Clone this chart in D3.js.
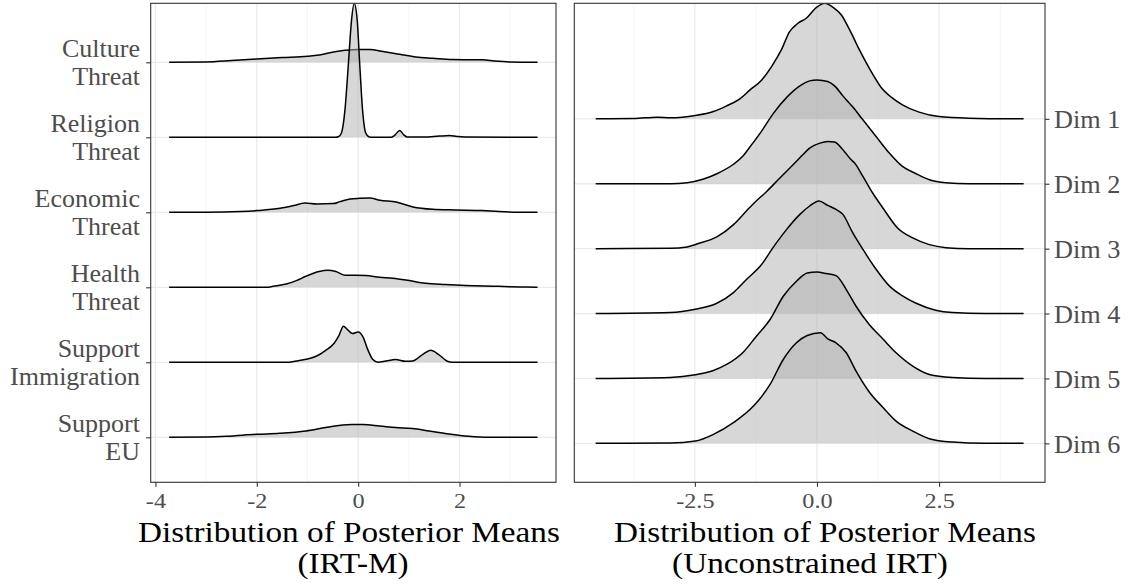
<!DOCTYPE html>
<html>
<head>
<meta charset="utf-8">
<script src="https://cdn.jsdelivr.net/npm/d3@7"></script>
<style>
  html, body { margin: 0; padding: 0; background: #fff; }
  svg { display: block; }
</style>
</head>
<body>
<svg id="chart" width="1129" height="586"></svg>
<script>
// ---------------- DATA ----------------
// Left panel: IRT-M posterior means. Pairs are [value, relative density].
const leftCategories = ["Culture\nThreat", "Religion\nThreat", "Economic\nThreat",
                        "Health\nThreat", "Support\nImmigration", "Support\nEU"];
const cultureThreat = [[-3.73,0],[-3.0,0.3],[-2.5,1.7],[-2.0,3.3],[-1.5,4.7],[-1.0,6],[-0.77,7.3],
  [-0.51,10],[-0.25,12],[0,12.7],[0.23,12.7],[0.49,10.7],[0.82,8],[1.14,5.3],[1.47,4],[1.86,2.7],
  [2.2,2.6],[2.45,2.5],[2.7,1.2],[3.0,0.3],[3.54,0]];
const religionThreat = [[-3.73,0],[-0.45,0],[-0.39,0.5],[-0.33,4.3],[-0.26,27.7],[-0.196,71],
  [-0.13,117.7],[-0.078,134],[-0.02,117.7],[0.033,71],[0.086,27.7],[0.15,4.3],[0.22,0.3],[0.28,0],
  [0.65,0],[0.72,2],[0.82,6.7],[0.9,2.5],[0.97,0.3],[1.3,0.3],[1.6,1.2],[1.8,1.7],[1.95,0.8],
  [2.1,0.3],[3.54,0]];
const economicThreat = [[-3.73,0],[-3.0,0],[-2.32,0.7],[-1.99,1.7],[-1.54,4],[-1.27,6.7],[-1.05,9.3],
  [-0.82,8.3],[-0.49,8.7],[-0.36,10.7],[-0.16,13.3],[0.03,14],[0.23,14.3],[0.43,12],[0.75,10.3],
  [1.08,5.3],[1.47,3],[1.93,2.3],[2.45,1.7],[2.78,0.7],[3.2,0.1],[3.54,0]];
const healthThreat = [[-3.73,0],[-1.8,0],[-1.68,1],[-1.42,3.3],[-1.22,6.7],[-1.03,11],[-0.77,15.7],
  [-0.6,17],[-0.44,15.7],[-0.25,12],[-0.05,12],[0.15,11.7],[0.42,10],[0.68,9],[0.94,7.3],[1.33,4],
  [1.72,2.7],[2.12,1.7],[2.77,1],[3.2,0.3],[3.54,0]];
const supportImmigration = [[-3.73,0],[-1.42,0],[-1.22,1.3],[-1.0,3.3],[-0.83,6],[-0.64,12],
  [-0.47,19.3],[-0.38,26.7],[-0.29,36],[-0.21,32.7],[-0.11,28.7],[0.0,30.3],[0.09,26],[0.19,12.7],
  [0.29,2.7],[0.39,0],[0.55,1.3],[0.74,2.7],[0.94,1],[1.07,1.3],[1.27,7.7],[1.43,12],[1.59,7.7],
  [1.76,1],[1.86,0],[3.54,0]];
const supportEU = [[-3.73,0],[-3.0,0.3],[-2.6,1],[-2.0,3],[-1.55,4],[-1.03,6.3],[-0.64,9.7],
  [-0.38,11.7],[-0.12,12.7],[0.09,12.7],[0.42,11.3],[0.74,9.7],[1.07,8.7],[1.4,6.3],[1.79,3.3],
  [2.18,1],[2.57,0],[3.54,0]];
const leftSeries = [cultureThreat, religionThreat, economicThreat, healthThreat, supportImmigration, supportEU];
const leftTicks = [-4, -2, 0, 2];
const leftMinorTicks = [-3, -1, 1, 3];
const leftTitle = ["Distribution of Posterior Means", "(IRT-M)"];

// Right panel: unconstrained IRT posterior means.
const rightCategories = ["Dim 1", "Dim 2", "Dim 3", "Dim 4", "Dim 5", "Dim 6"];
const dim1 = [[-4.53,0],[-3.75,0.3],[-3.27,1.7],[-3.0,1],[-2.49,3.3],[-2.12,7.3],[-1.85,13],[-1.58,20],
  [-1.37,29],[-1.13,39],[-0.93,52.3],[-0.73,69],[-0.56,87.3],[-0.39,95.7],[-0.22,100.7],[-0.01,111.7],
  [0.16,115.7],[0.33,111.7],[0.5,104],[0.67,89],[0.87,69],[1.07,50.7],[1.31,31.7],[1.52,21.7],
  [1.75,14],[2.09,6.7],[2.5,2.3],[3.11,0.7],[4.23,0]];
const dim2 = [[-4.53,0],[-3.0,0],[-2.66,1],[-2.32,4.7],[-2.05,10],[-1.71,19.5],[-1.51,28],[-1.37,37],
  [-1.13,53],[-0.9,70],[-0.62,86.5],[-0.35,98],[-0.15,103],[0,104],[0.22,102.3],[0.36,98],[0.53,88],
  [0.73,77],[0.94,64],[1.21,47.3],[1.48,30.7],[1.75,17.3],[2.03,10],[2.3,4],[2.64,1],[3.11,0],[4.23,0]];
const dim3 = [[-4.53,0],[-3.0,0.3],[-2.66,1.7],[-2.46,4.7],[-2.05,11.7],[-1.71,24],[-1.44,38],
  [-1.27,46.5],[-1.03,57.3],[-0.76,70.7],[-0.49,84],[-0.39,89],[-0.29,94],[-0.15,100.7],[0.06,105.7],
  [0.22,107.3],[0.36,106.7],[0.53,99],[0.7,89],[0.77,85.7],[0.94,72.3],[1.14,55.7],[1.35,40.7],
  [1.65,20.7],[1.96,10.7],[2.3,4],[2.64,1],[3.11,0],[4.23,0]];
const dim4 = [[-4.53,0],[-3.0,1],[-2.49,4.3],[-2.05,10.3],[-1.71,21],[-1.44,34.3],[-1.13,49.3],
  [-0.9,66],[-0.62,84.3],[-0.35,99.3],[-0.15,107.7],[0.04,112.7],[0.22,108.3],[0.39,104.3],[0.53,99.3],
  [0.73,81],[0.94,64.3],[1.21,44.3],[1.48,27.7],[1.75,17.7],[2.03,10.3],[2.43,3.3],[2.77,1],[3.45,0],[4.23,0]];
const dim5 = [[-4.53,0],[-3.0,1],[-2.49,3.7],[-2.12,8],[-1.85,14],[-1.51,26.3],[-1.24,42.3],[-0.96,59],
  [-0.69,82.3],[-0.42,97.3],[-0.2,105.7],[0,106.7],[0.19,105],[0.39,103],[0.6,89],[0.8,72.3],[1.07,54],
  [1.35,39.5],[1.62,25.7],[1.96,12.3],[2.3,4],[2.77,1],[3.45,0],[4.23,0]];
const dim6 = [[-4.53,0],[-3.0,0.3],[-2.49,2.3],[-2.12,9],[-1.71,20.7],[-1.3,37.3],[-0.96,59],[-0.69,84],
  [-0.42,100.7],[-0.2,108],[0.07,110.7],[0.22,104.7],[0.39,100.7],[0.6,90.7],[0.8,72.3],[1.07,51.5],
  [1.35,36],[1.62,22.3],[1.96,12.3],[2.3,4.7],[2.77,1.3],[3.45,0],[4.23,0]];
const rightSeries = [dim1, dim2, dim3, dim4, dim5, dim6];
const rightTicks = [-2.5, 0, 2.5];
const rightMinorTicks = [-3.75, -1.25, 1.25, 3.75];
const rightTitle = ["Distribution of Posterior Means", "(Unconstrained IRT)"];

// ---------------- DRAWING ----------------
const FONT = "'Liberation Serif','Times New Roman',Times,serif";
const svg = d3.select("#chart");
svg.append("rect").attr("width", 1129).attr("height", 586).attr("fill", "#fff");
const fmt = d3.formatLocale({decimal: ".", thousands: ",", grouping: [3], currency: ["", ""], minus: "-"});

function drawPanel(cfg) {
  const g = svg.append("g");
  const n = cfg.categories.length;
  // ridge positions: first category at the top (n), last at the bottom (1)
  const pos = i => n - i;
  const allX = cfg.series.flat().map(d => d[0]);
  const [xmin, xmax] = d3.extent(allX);
  const pad = (xmax - xmin) * 0.05;
  const x = d3.scaleLinear().domain([xmin - pad, xmax + pad]).range([cfg.left, cfg.right]);
  const topPos = d3.max(cfg.series, (s, i) => pos(i) + d3.max(s, d => d[1]) / cfg.densityPerStep);
  const y = d3.scaleLinear().domain([0.4, topPos]).range([cfg.bottom, cfg.top]);

  const clipId = "clip" + cfg.id;
  svg.append("clipPath").attr("id", clipId).append("rect")
    .attr("x", cfg.left).attr("y", cfg.top)
    .attr("width", cfg.right - cfg.left).attr("height", cfg.bottom - cfg.top);

  // grid
  const grid = g.append("g");
  grid.selectAll(".minor").data(cfg.minor).join("line")
    .attr("x1", d => x(d)).attr("x2", d => x(d)).attr("y1", cfg.top).attr("y2", cfg.bottom)
    .attr("stroke", "#f2f2f2").attr("stroke-width", 0.8);
  grid.selectAll(".major").data(cfg.ticks).join("line")
    .attr("x1", d => x(d)).attr("x2", d => x(d)).attr("y1", cfg.top).attr("y2", cfg.bottom)
    .attr("stroke", "#ebebeb").attr("stroke-width", 1.3);
  grid.selectAll(".hmajor").data(cfg.categories).join("line")
    .attr("x1", cfg.left).attr("x2", cfg.right)
    .attr("y1", (d, i) => y(pos(i))).attr("y2", (d, i) => y(pos(i)))
    .attr("stroke", "#ebebeb").attr("stroke-width", 1.3);

  // ridges
  const ridges = g.append("g").attr("clip-path", `url(#${clipId})`);
  cfg.series.forEach((s, i) => {
    const base = pos(i);
    const area = d3.area().curve(d3.curveMonotoneX)
      .x(d => x(d[0])).y0(y(base)).y1(d => y(base + d[1] / cfg.densityPerStep));
    const line = d3.line().curve(d3.curveMonotoneX)
      .x(d => x(d[0])).y(d => y(base + d[1] / cfg.densityPerStep));
    ridges.append("path").attr("d", area(s)).attr("fill", "#afafaf").attr("fill-opacity", 0.5);
    ridges.append("path").attr("d", line(s)).attr("fill", "none")
      .attr("stroke", "#000").attr("stroke-width", 1.5).attr("stroke-linejoin", "round");
  });

  // panel border
  g.append("rect").attr("x", cfg.left).attr("y", cfg.top)
    .attr("width", cfg.right - cfg.left).attr("height", cfg.bottom - cfg.top)
    .attr("fill", "none").attr("stroke", "#333").attr("stroke-width", 1.1);

  // x axis
  const xAxis = d3.axisBottom(x).tickValues(cfg.ticks).tickSize(4.5).tickPadding(0)
    .tickFormat(cfg.tickFormat);
  const xa = g.append("g").attr("transform", `translate(0,${cfg.bottom})`).call(xAxis);
  xa.select(".domain").remove();
  xa.selectAll(".tick line").attr("stroke", "#333").attr("stroke-width", 1.1);
  xa.selectAll(".tick text").attr("y", 26).attr("dy", 0)
    .attr("transform", "scale(1.1,1)")
    .attr("font-family", FONT).attr("font-size", 22).attr("fill", "#4d4d4d");

  // y axis (category labels)
  const yAxis = (cfg.side === "left" ? d3.axisLeft(y) : d3.axisRight(y))
    .tickValues(cfg.categories.map((c, i) => pos(i))).tickSize(4.5).tickFormat("");
  const ya = g.append("g")
    .attr("transform", `translate(${cfg.side === "left" ? cfg.left : cfg.right},0)`).call(yAxis);
  ya.select(".domain").remove();
  ya.selectAll(".tick line").attr("stroke", "#333").attr("stroke-width", 1.1);
  ya.selectAll(".tick").each(function(v) {
    const idx = n - v;
    const lines = cfg.categories[idx].split("\n");
    const t = d3.select(this);
    if (cfg.side === "left") {
      lines.forEach((ln, k) => {
        t.append("text").text(ln)
          .attr("transform", `translate(-10.7,${k === 0 ? -5.4 : 22.3}) scale(1.04,1)`)
          .attr("text-anchor", "end").attr("font-family", FONT).attr("font-size", 25)
          .attr("fill", "#4d4d4d");
      });
    } else {
      t.append("text").text(lines[0])
        .attr("transform", `translate(9,9) scale(1.05,1)`)
        .attr("text-anchor", "start").attr("font-family", FONT).attr("font-size", 25)
        .attr("fill", "#4d4d4d");
    }
  });

  // axis title
  cfg.title.forEach((ln, k) => {
    g.append("text").text(ln)
      .attr("transform", `translate(${cfg.titleCenters[k]},${k === 0 ? 541.5 : 572.5}) scale(1.09,1)`)
      .attr("text-anchor", "middle").attr("font-family", FONT).attr("font-size", 30.5)
      .attr("fill", "#000");
  });
}

drawPanel({
  id: "L", categories: leftCategories, series: leftSeries, densityPerStep: 75,
  left: 150.7, right: 556, top: 3.3, bottom: 482.3,
  ticks: leftTicks, minor: leftMinorTicks, tickFormat: fmt.format("d"),
  side: "left", title: leftTitle, titleCenters: [349, 353]
});
drawPanel({
  id: "R", categories: rightCategories, series: rightSeries, densityPerStep: 65,
  left: 574.3, right: 1045, top: 3.3, bottom: 482.3,
  ticks: rightTicks, minor: rightMinorTicks, tickFormat: fmt.format(".1f"),
  side: "right", title: rightTitle, titleCenters: [825, 810]
});
</script>
</body>
</html>
